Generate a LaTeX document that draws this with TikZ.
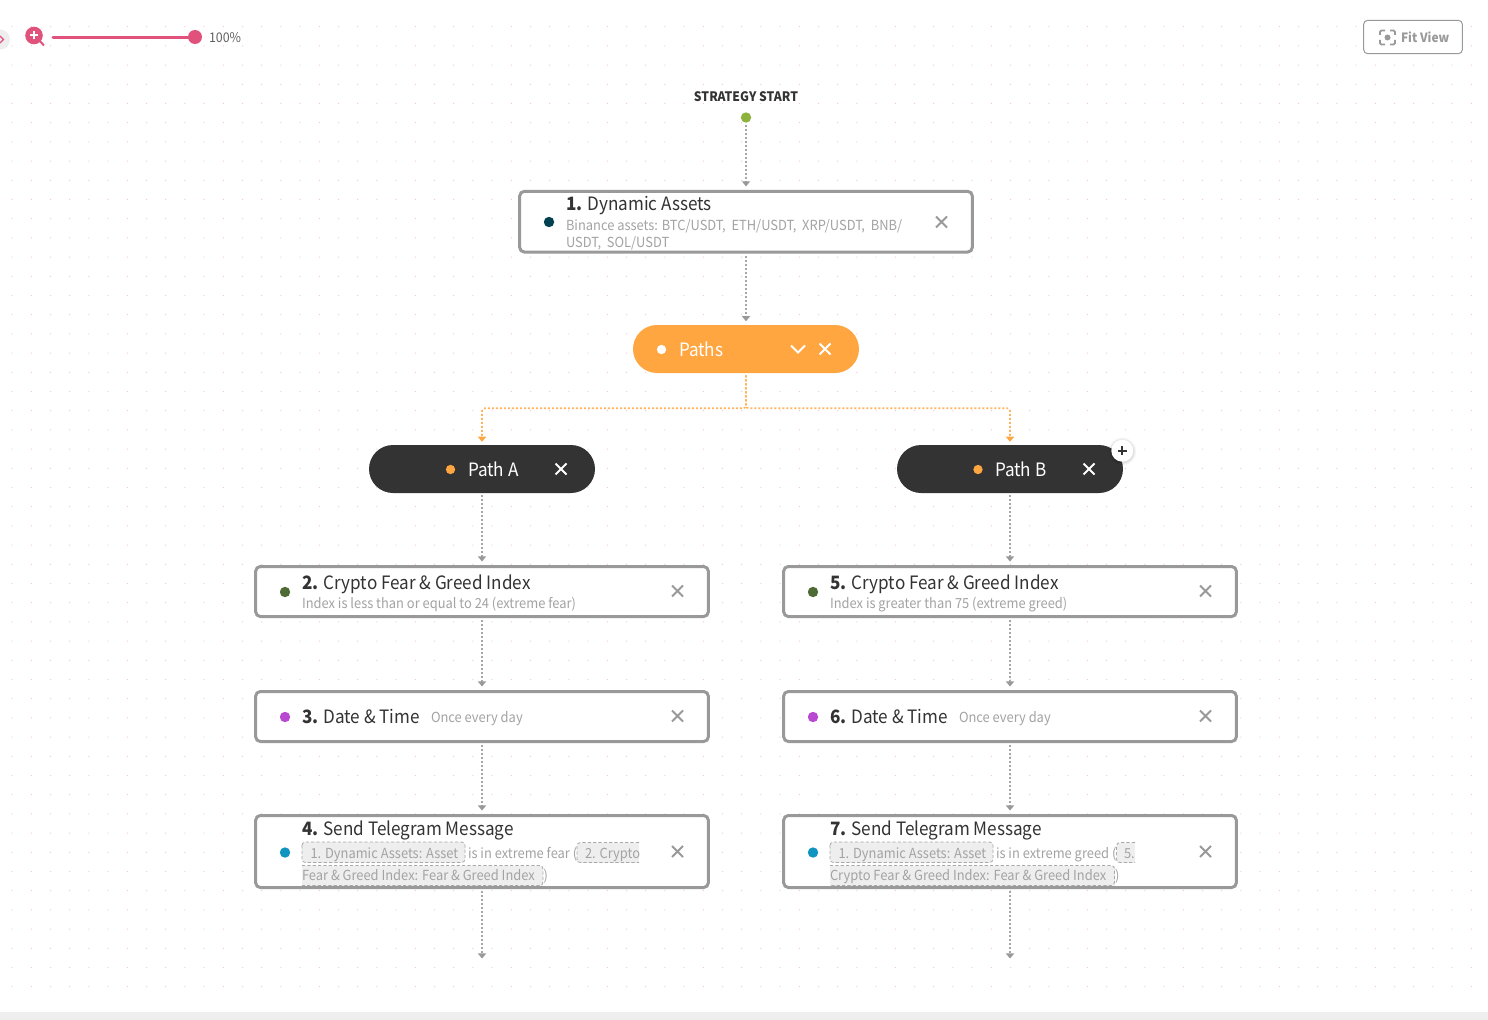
\documentclass[tikz,border=0pt]{standalone}
\usepackage{fontspec}
\setmainfont[FakeStretch=0.93]{Noto Sans CJK SC}
\usetikzlibrary{arrows.meta}
\definecolor{linegray}{HTML}{999999}
\definecolor{flowgray}{HTML}{A6A6A6}
\definecolor{subgray}{HTML}{A3A3A3}
\definecolor{ink}{HTML}{333333}
\definecolor{orangefill}{HTML}{FFA640}
\definecolor{pinkmain}{HTML}{E0527C}
\definecolor{griddot}{HTML}{F9C4D4}
\definecolor{chipfill}{HTML}{EEEEEE}
\definecolor{chipline}{HTML}{A8A8A8}
\newcommand{\tsize}{\fontsize{13.8}{17}\selectfont}
\newcommand{\ssize}{\fontsize{10.4}{13}\selectfont}
\newcommand{\xicon}[3]{\draw[xmk,#3] (#1,#2) ++(-5.5,-5.5) -- ++(11,11) ++(-11,0) -- ++(11,-11);}
\tikzset{
  cardbox/.style={draw=linegray,fill=white,line width=2.25pt,rounded corners=3.5pt,inner sep=0pt,minimum width=339.5pt},
  pill/.style={rounded corners=18pt,inner sep=0pt,minimum width=169.5pt,minimum height=36pt},
  lbl/.style={anchor=base west,inner sep=0pt,outer sep=0pt},
  title/.style={lbl,text=ink,font=\tsize},
  subt/.style={lbl,text=subgray,font=\ssize},
  pilltxt/.style={lbl,text=white,font=\tsize},
  bullet/.style={circle,inner sep=0pt,minimum size=7.8pt},
  pbullet/.style={circle,inner sep=0pt,minimum size=7pt},
  xmk/.style={line width=1.5pt,draw=linegray},
  flow/.style={draw=flowgray,line width=1.3pt,dash pattern=on 1.5pt off 1.5pt,-{Triangle[width=6pt,length=3.8pt,color=linegray,fill=linegray]},shorten >=2.6pt,shorten <=1.5pt},
  oflow/.style={draw=orangefill!85,line width=1.2pt,dash pattern=on 1.5pt off 1.5pt,rounded corners=2pt,-{Triangle[width=6pt,length=3.8pt,color=orangefill,fill=orangefill]},shorten >=2.2pt,shorten <=1.5pt},
  chip/.style={fill=chipfill},
  chipedge/.style={draw=chipline,line width=.6pt,dash pattern=on 2.4pt off 1.6pt,rounded corners=2.5pt},
}
\begin{document}
\begin{tikzpicture}[x=0.75pt,y=-0.75pt]
\useasboundingbox (0,0) rectangle (1488,1020);
\fill[white] (0,0) rectangle (1488,1020);
\fill[griddot] foreach \i in {0,...,76} { foreach \j in {0,...,50} {
  ({11.6+19.2*\i},{26.2+19.2*\j}) rectangle ++(1,1) } };
\fill[chipfill] (0,1012) rectangle (1488,1020);

% zoom control
\fill[chipfill] (0,39.5) circle (10);
\draw[pinkmain,line width=1pt] (0,36) -- (3.5,39.5) -- (0,43);
\draw[pinkmain,line width=1.5pt] (38,39) -- (44,45.5);
\fill[pinkmain] (34,35.5) circle (8.8);
\draw[white,line width=1.5pt] (30,35.5) -- (38,35.5) (34,31.5) -- (34,39.5);
\draw[pinkmain,line width=2.25pt,line cap=round] (53,37.5) -- (195,37.5);
\fill[pinkmain] (195,37) circle (7);
\node[lbl,text=black!62,font=\fontsize{10}{12}\selectfont] (zoomval) at (209,42.5) {100\%};

% fit view
\node[draw=linegray,fill=white,line width=.75pt,rounded corners=3pt,inner sep=0pt,minimum width=74pt,minimum height=25pt] (fit) at (1413,37) {};
\draw[linegray,line width=1.3pt,rounded corners=1pt]
  (1380,35) -- (1380,30.5) -- (1385,30.5)
  (1390,30.5) -- (1395,30.5) -- (1395,35)
  (1395,40) -- (1395,44.5) -- (1390,44.5)
  (1385,44.5) -- (1380,44.5) -- (1380,40);
\fill[linegray] (1387.5,37.5) circle (3);
\node[lbl,text=linegray,font=\fontsize{9.6}{12}\selectfont\bfseries] (fittext) at (1401,42.5) {Fit View};

% start
\node[anchor=base,inner sep=0pt,text=ink,font=\fontsize{9.8}{12}\selectfont\bfseries] (starttext) at (746,101.5) {STRATEGY START};
\node[circle,inner sep=0pt,minimum size=7.8pt,fill={rgb,255:red,141;green,179;blue,62}] (sdot) at (746,117.5) {};

% cards
\node[cardbox,minimum height=45.5pt] (c1) at (746,221.7) {};
\node[pill,fill=orangefill] (paths) at (746,349) {};
\node[pill,fill=ink] (pa) at (482,469) {};
\node[pill,fill=ink] (pb) at (1010,469) {};
\node[cardbox,minimum height=37.5pt] (c2) at (482,591.5) {};
\node[cardbox,minimum height=37.5pt] (c3) at (482,716.5) {};
\node[cardbox,minimum height=54pt] (c4) at (482,851.5) {};
\node[cardbox,minimum height=37.5pt] (c5) at (1010,591.5) {};
\node[cardbox,minimum height=37.5pt] (c6) at (1010,716.5) {};
\node[cardbox,minimum height=54pt] (c7) at (1010,851.5) {};
\coordinate (e4) at (482,962);
\coordinate (e7) at (1010,962);

% connectors
\draw[flow] (sdot) -- (c1);
\draw[flow] (c1) -- (paths);
\draw[oflow] (paths.south) -- ++(0,35) -| (pa.north);
\draw[oflow] (paths.south) -- ++(0,35) -| (pb.north);
\draw[flow] (pa) -- (c2);
\draw[flow] (c2) -- (c3);
\draw[flow] (c3) -- (c4);
\draw[flow] (c4) -- (e4);
\draw[flow] (pb) -- (c5);
\draw[flow] (c5) -- (c6);
\draw[flow] (c6) -- (c7);
\draw[flow] (c7) -- (e7);

% card 1
\node[bullet,fill={rgb,255:red,0;green,64;blue,80}] (d1) at (549,222) {};
\node[title] (t1) at (566,210) {\textbf{1.} Dynamic Assets};
\node[subt] (s1a) at (566,230) {Binance assets: BTC/USDT,\ \ ETH/USDT,\ \ XRP/USDT,\ \ BNB/};
\node[subt] (s1b) at (566,247) {USDT,\ \ SOL/USDT};
\xicon{941.5}{222}{}

% paths
\node[pbullet,fill=white] (dp) at (661.5,349.5) {};
\node[pilltxt] (tp) at (679,356) {Paths};
\draw[white,line width=1.5pt] (791,345.5) -- (798,352.5) -- (805,345.5);
\xicon{825}{349}{draw=white}

% path a / b
\node[pbullet,fill=orangefill] (da) at (450.5,469.5) {};
\node[pilltxt] (ta) at (468,476) {Path A};
\xicon{561}{469}{draw=white}
\node[pbullet,fill=orangefill] (db) at (978,469.5) {};
\node[pilltxt] (tb) at (995,476) {Path B};
\xicon{1089}{469}{draw=white}

% plus button
\foreach \r/\o in {14/.03,13/.04,12/.05}{\fill[black,opacity=\o] (1122.3,451.5) circle (\r);}
\fill[white] (1122.3,450.7) circle (11);
\draw[ink,line width=1.5pt] (1118,450.7) -- (1126.6,450.7) (1122.3,446.4) -- (1122.3,455);

% cards 2,3
\node[bullet,fill={rgb,255:red,79;green,107;blue,53}] (d2) at (285,592) {};
\node[title] (t2) at (302,589) {\textbf{2.} Crypto Fear \& Greed Index};
\node[subt] (s2) at (302,608) {Index is less than or equal to 24 (extreme fear)};
\xicon{677.5}{591}{}
\node[bullet,fill={rgb,255:red,183;green,72;blue,207}] (d3) at (285,717) {};
\node[title] (t3) at (302,723) {\textbf{3.} Date \& Time};
\node[subt] (s3) at (431,722) {Once every day};
\xicon{677.5}{716}{}

% cards 5,6
\node[bullet,fill={rgb,255:red,79;green,107;blue,53}] (d5) at (813,592) {};
\node[title] (t5) at (830,589) {\textbf{5.} Crypto Fear \& Greed Index};
\node[subt] (s5) at (830,608) {Index is greater than 75 (extreme greed)};
\xicon{1205.5}{591}{}
\node[bullet,fill={rgb,255:red,183;green,72;blue,207}] (d6) at (813,717) {};
\node[title] (t6) at (830,723) {\textbf{6.} Date \& Time};
\node[subt] (s6) at (959,722) {Once every day};
\xicon{1205.5}{716}{}

% card 4
\node[bullet,fill={rgb,255:red,17;green,149;blue,192}] (d4) at (285,852.5) {};
\node[title] (t4) at (302,835) {\textbf{4.} Send Telegram Message};
\fill[chip,rounded corners=2.5pt] (302,842) rectangle (465,862.5);
\draw[chipedge] (302,842) rectangle (465,862.5);
\fill[chip] (577,842.5) rectangle (639,862.5);
\draw[chipedge] (639,842.5) -- (577,842.5) -- (577,862.5) -- (639,862.5);
\fill[chip] (302,865.5) rectangle (543,885.5);
\draw[chipedge] (302,865.5) -- (543,865.5) -- (543,885.5) -- (302,885.5);
\node[subt] (s4a) at (310.5,858) {1. Dynamic Assets: Asset};
\node[subt] (s4b) at (468,858) {is in extreme fear (};
\node[subt] (s4c) at (585,858) {2. Crypto};
\node[subt] (s4d) at (302,880) {Fear \& Greed Index: Fear \& Greed Index};
\node[subt] (s4e) at (543.5,880) {)};
\xicon{677.5}{851.5}{}

% card 7
\node[bullet,fill={rgb,255:red,17;green,149;blue,192}] (d7) at (813,852.5) {};
\node[title] (t7) at (830,835) {\textbf{7.} Send Telegram Message};
\fill[chip,rounded corners=2.5pt] (830,842) rectangle (993,862.5);
\draw[chipedge] (830,842) rectangle (993,862.5);
\fill[chip] (1116.5,842.5) rectangle (1135,862.5);
\draw[chipedge] (1135,842.5) -- (1116.5,842.5) -- (1116.5,862.5) -- (1135,862.5);
\fill[chip] (830,865.5) rectangle (1114.5,885.5);
\draw[chipedge] (830,865.5) -- (1114.5,865.5) -- (1114.5,885.5) -- (830,885.5);
\node[subt] (s7a) at (838.5,858) {1. Dynamic Assets: Asset};
\node[subt] (s7b) at (996,858) {is in extreme greed (};
\node[subt] (s7c) at (1124,858) {5.};
\node[subt] (s7d) at (830,880) {Crypto Fear \& Greed Index: Fear \& Greed Index};
\node[subt] (s7e) at (1115,880) {)};
\xicon{1205.5}{851.5}{}
\end{tikzpicture}
\end{document}
